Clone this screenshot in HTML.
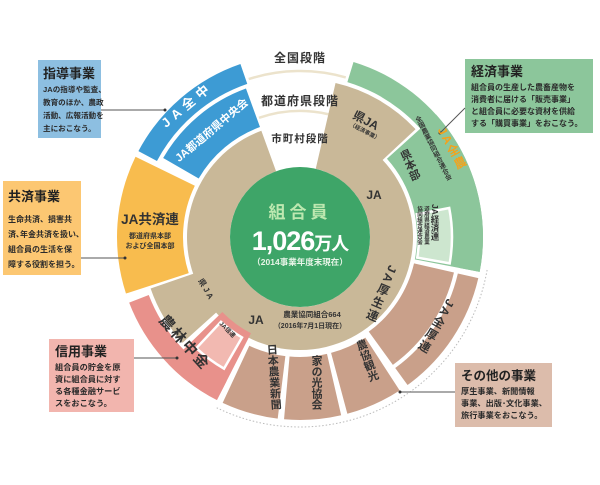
<!DOCTYPE html>
<html><head><meta charset="utf-8"><style>
html,body{margin:0;padding:0;background:#fff;width:600px;height:485px;overflow:hidden}
svg{display:block}
text{font-family:"Liberation Sans","Noto Sans CJK JP",sans-serif;font-weight:bold}
.v{writing-mode:vertical-rl}
</style></head><body>
<svg id="s" width="600" height="485" viewBox="0 0 600 485" xmlns="http://www.w3.org/2000/svg">
<g id="segs"></g>
<!-- boxes -->
<rect x="38" y="60" width="63" height="78" fill="#8dbfe1"/>
<text x="43" y="78" font-size="13" fill="#222">指導事業</text>
<text font-size="7.6" fill="#2a2a2a"><tspan x="43" y="92">JAの指導や監査、</tspan><tspan x="43" y="105">教育のほか、農政</tspan><tspan x="43" y="118">活動、広報活動を</tspan><tspan x="43" y="131">主におこなう。</tspan></text>
<rect x="3" y="181" width="78" height="94" fill="#fcc772"/>
<text x="8" y="201" font-size="13" fill="#222">共済事業</text>
<text font-size="8" fill="#2a2a2a"><tspan x="8" y="222">生命共済、損害共</tspan><tspan x="8" y="237">済､年金共済を扱い､</tspan><tspan x="8" y="252">組合員の生活を保</tspan><tspan x="8" y="267">障する役割を担う。</tspan></text>
<rect x="465" y="59" width="128" height="74" fill="#8cc69b"/>
<text x="471" y="76" font-size="13" fill="#222">経済事業</text>
<text font-size="8" fill="#2a2a2a"><tspan x="471" y="90">組合員の生産した農畜産物を</tspan><tspan x="471" y="102">消費者に届ける「販売事業」</tspan><tspan x="471" y="114">と組合員に必要な資材を供給</tspan><tspan x="471" y="126">する「購買事業」をおこなう。</tspan></text>
<rect x="49" y="339" width="85" height="73" fill="#f2b5ae"/>
<text x="55" y="356" font-size="13" fill="#222">信用事業</text>
<text font-size="8.2" fill="#2a2a2a"><tspan x="55" y="370">組合員の貯金を原</tspan><tspan x="55" y="382">資に組合員に対す</tspan><tspan x="55" y="394">る各種金融サービ</tspan><tspan x="55" y="406">スをおこなう。</tspan></text>
<rect x="455" y="363" width="97" height="64" fill="#dcbcab"/>
<text x="461" y="380" font-size="12.5" fill="#222">その他の事業</text>
<text font-size="8.2" fill="#2a2a2a"><tspan x="461" y="394">厚生事業、新聞情報</tspan><tspan x="461" y="406">事業、出版･文化事業、</tspan><tspan x="461" y="418">旅行事業をおこなう。</tspan></text>
<!-- connectors -->
<g stroke="#555" stroke-width="1" fill="none">
<line x1="101" y1="110" x2="165" y2="110"/>
<line x1="81" y1="258" x2="125" y2="258"/>
<line x1="465" y1="108" x2="440" y2="133"/>
<line x1="134" y1="358" x2="177" y2="358"/>
<line x1="455" y1="392" x2="400" y2="392"/>
</g>
<g fill="#333"><circle cx="165" cy="110" r="1.5"/><circle cx="125" cy="258" r="1.5"/><circle cx="440" cy="133" r="1.5"/><circle cx="177" cy="358" r="1.5"/><circle cx="400" cy="392" r="1.5"/></g>
<!-- center -->
<circle cx="300" cy="237" r="70" fill="#3ea568"/>
<text x="300" y="218" font-size="17" fill="#bde8b0" text-anchor="middle" letter-spacing="4">組合員</text>
<text x="300" y="250" font-size="27" fill="#fff" text-anchor="middle" letter-spacing="-1">1,026<tspan font-size="18">万人</tspan></text>
<text x="300" y="265" font-size="8.5" fill="#e8f5e8" text-anchor="middle">（2014事業年度末現在）</text>
<!-- stage labels -->
<text x="300" y="62" font-size="12" fill="#333" text-anchor="middle" letter-spacing="1">全国段階</text>
<text x="300" y="105" font-size="12" fill="#333" text-anchor="middle" letter-spacing="1">都道府県段階</text>
<text x="300" y="142" font-size="10.5" fill="#333" text-anchor="middle" letter-spacing="1">市町村段階</text>
<!-- segment labels -->
<text transform="translate(190,108) rotate(-40)" font-size="13" fill="#fff" text-anchor="middle" letter-spacing="5">JA全中</text>
<text transform="translate(214,133) rotate(-40)" font-size="11" fill="#fff" text-anchor="middle">JA都道府県中央会</text>
<text x="150" y="224" font-size="13.5" fill="#333" text-anchor="middle">JA共済連</text>
<text x="150" y="238" font-size="7" fill="#333" text-anchor="middle">都道府県本部</text>
<text x="150" y="248" font-size="7" fill="#333" text-anchor="middle">および全国本部</text>
<text transform="translate(181,346) rotate(48)" font-size="15" fill="#333" text-anchor="middle" letter-spacing="2">農林中金</text>
<text transform="translate(226,331) rotate(45)" font-size="6" fill="#333" text-anchor="middle">JA信連</text>
<text transform="translate(204,291) rotate(60)" font-size="8" fill="#333" text-anchor="middle" letter-spacing="2">県JA</text>
<text x="256" y="324" font-size="12" fill="#333" text-anchor="middle">JA</text>
<text x="312" y="317" font-size="7.5" fill="#333" text-anchor="middle">農業協同組合664</text>
<text x="310" y="328" font-size="7" fill="#333" text-anchor="middle">（2016年7月1日現在）</text>
<text class="v" transform="translate(271,344) rotate(-4)" font-size="11" fill="#333">日本農業新聞</text>
<text class="v" transform="translate(316,355)" font-size="11" fill="#333">家の光協会</text>
<text class="v" transform="translate(359,340) rotate(-20)" font-size="11" fill="#333">農協観光</text>
<text class="v" transform="translate(393,266) rotate(23)" font-size="12" fill="#333" letter-spacing="2">JA厚生連</text>
<text class="v" transform="translate(451,300) rotate(30)" font-size="12" fill="#333" letter-spacing="2">JA全厚連</text>
<text transform="translate(364,124) rotate(28)" font-size="12" fill="#333" text-anchor="middle">県JA</text>
<text transform="translate(364,133) rotate(28)" font-size="5.5" fill="#333" text-anchor="middle">（経済事業）</text>
<text x="374" y="199" font-size="12" fill="#333" text-anchor="middle">JA</text>
<text class="v" transform="translate(403,150) rotate(-23)" font-size="11" fill="#333">県本部</text>
<text class="v" transform="translate(441,128) rotate(-28)" font-size="12" fill="#f3a21c" letter-spacing="2">JA全農</text>
<text class="v" transform="translate(416,117) rotate(-27)" font-size="6.5" fill="#333">全国農業協同組合連合会</text>
<text class="v" transform="translate(435,204)" font-size="8.5" fill="#333">JA経済連</text>
<text class="v" transform="translate(426,206)" font-size="5.5" fill="#333">道府県経済農業</text>
<text class="v" transform="translate(419,206)" font-size="5.5" fill="#333">協同組合連合会</text>
</svg>
<script>
var cx=300,cy=237,NS="http://www.w3.org/2000/svg",g=document.getElementById("segs");
function P(a,r){a=a*Math.PI/180;return (cx+r*Math.sin(a)).toFixed(2)+" "+(cy-r*Math.cos(a)).toFixed(2);}
function seg(a1,a2,r1,r2,c,st){var l=(a2-a1)>180?1:0;
var d="M"+P(a1,r2)+" A"+r2+" "+r2+" 0 "+l+" 1 "+P(a2,r2)+" L"+P(a2,r1)+" A"+r1+" "+r1+" 0 "+l+" 0 "+P(a1,r1)+"Z";
var p=document.createElementNS(NS,"path");p.setAttribute("d",d);p.setAttribute("fill",c);
if(st){p.setAttribute("stroke",st);p.setAttribute("stroke-width","2.5");}g.appendChild(p);}
function arc(a1,a2,r,c,w,da){var p=document.createElementNS(NS,"path");
p.setAttribute("d","M"+P(a1,r)+" A"+r+" "+r+" 0 0 1 "+P(a2,r));p.setAttribute("fill","none");p.setAttribute("stroke",c);p.setAttribute("stroke-width",w);if(da)p.setAttribute("stroke-dasharray",da);g.appendChild(p);}
var tan="#c9b898",br="#c9a08a",gr="#8cc69b";
arc(-18,16,166,"#ece3cc",2.5);
arc(-19,13,126,"#ece3cc",2.5);
arc(100,206,190,"#bbb",1,"1.5 2");
seg(20,340,70,113,tan);
seg(13,47,70,158,tan);
seg(228,251,70,158,tan);
seg(17,101,162,183,gr);
seg(48,101,117,183,gr);
seg(79,100,119,152,"#cde6cf","#fff");
seg(103,144,162,183,br);
seg(103,144,117,158,br);
seg(147,165,120,183,br);
seg(167,185,120,183,br);
seg(187,205,120,183,br);
seg(207,249,162,183,"#e8918b");
seg(207,226,108,183,"#e8918b");
seg(210,223,116,152,"#f2b9b1","#fff");
seg(252,296,117,183,"#f8bc4e");
seg(298,341,162,183,"#3d9bd4");
seg(300,340,117,158,"#3d9bd4");
</script>
</body></html>
